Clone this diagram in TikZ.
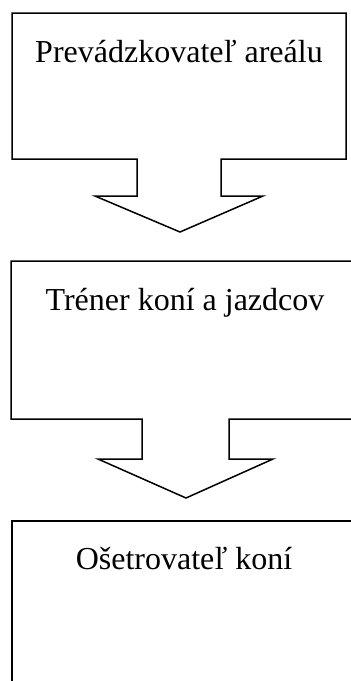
\documentclass[tikz,border=0pt]{standalone}
\usepackage{fontspec}
\setmainfont{Liberation Serif}
\begin{document}
\begin{tikzpicture}[x=1pt,y=-1pt,
  outline/.style={draw=black,line width=1.5pt,line join=miter},
  label/.style={font=\fontsize{32}{36}\selectfont,anchor=base,inner sep=0pt}]
\useasboundingbox (0,0) rectangle (351,681);
\clip (0,0) rectangle (351,681);
% first box with its down arrow
\draw[outline] (12,13) -- (346,13) -- (346,159) -- (221,159) -- (221,196)
  -- (263,196) -- (180,232) -- (95,196) -- (137,196) -- (137,159) -- (12,159) -- cycle;
% second box with its down arrow (runs past the right edge)
\draw[outline] (11,261) -- (360,261) -- (360,419) -- (229,419) -- (229,459)
  -- (273,459) -- (186,498) -- (98,459) -- (142,459) -- (142,419) -- (11,419) -- cycle;
% third box, open at the right and bottom
\draw[outline] (12,700) -- (12,521) -- (360,521);
\node[label] (t1) at (179,62) {Prevádzkovateľ areálu};
\node[label] (t2) at (185,310) {Tréner koní a jazdcov};
\node[label] (t3) at (184,569) {Ošetrovateľ koní};
\end{tikzpicture}
\end{document}
